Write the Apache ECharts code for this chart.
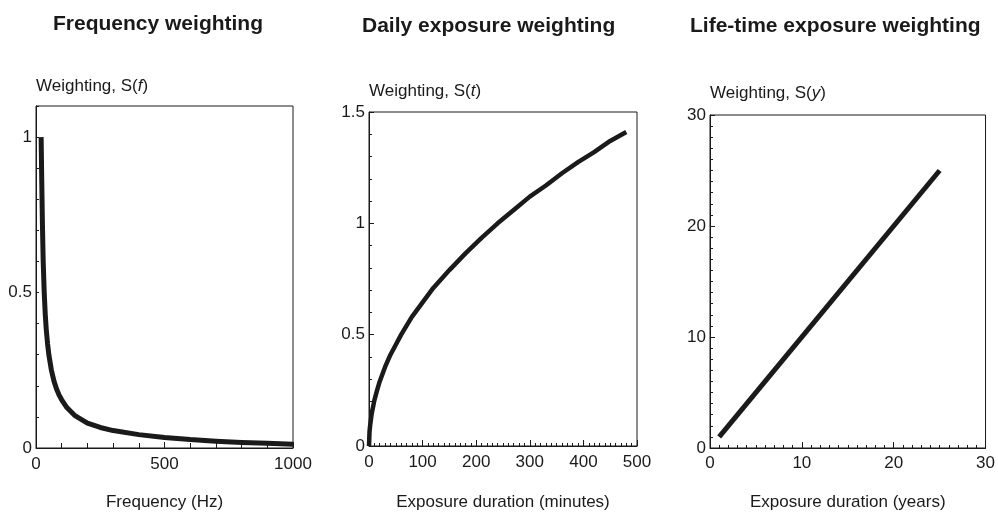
<!DOCTYPE html>
<html>
<head>
<meta charset="utf-8">
<script src="https://cdn.jsdelivr.net/npm/echarts@6/dist/echarts.min.js"></script>
<style>
html,body{margin:0;padding:0;background:#fff;}
#chart{width:998px;height:516px;}
</style>
</head>
<body>
<div id="chart"></div>
<script>
// ---- Data ----
const panelTitles = ['Frequency weighting', 'Daily exposure weighting', 'Life-time exposure weighting'];
const xAxisNames = ['Frequency (Hz)', 'Exposure duration (minutes)', 'Exposure duration (years)'];
const yAxisVars = ['f', 't', 'y'];

// Panel 1: frequency weighting S(f)
const freqHz      = [20, 22, 25, 28, 32, 36, 40, 45, 50, 60, 70, 80, 90, 100, 120, 150, 200, 250, 300, 400, 500, 600, 700, 800, 900, 1000];
const freqWeight  = [1.0, 0.88, 0.72, 0.6, 0.5, 0.43, 0.38, 0.335, 0.3, 0.25, 0.215, 0.19, 0.17, 0.155, 0.13, 0.105, 0.08, 0.066, 0.056, 0.043, 0.034, 0.027, 0.022, 0.018, 0.015, 0.012];

// Panel 2: daily exposure weighting S(t)
const dailyMinutes = [0, 1, 2, 5, 10, 15, 20, 30, 40, 50, 60, 80, 100, 120, 150, 180, 210, 240, 270, 300, 330, 360, 390, 420, 450, 480];
const dailyWeight  = [0, 0.065, 0.09, 0.145, 0.205, 0.25, 0.29, 0.355, 0.41, 0.455, 0.5, 0.58, 0.645, 0.71, 0.79, 0.865, 0.935, 1.0, 1.06, 1.12, 1.17, 1.225, 1.275, 1.32, 1.37, 1.41];

// Panel 3: life-time exposure weighting S(y)
const lifeYears  = [1, 25];
const lifeWeight = [1, 25];

// ---- Chart ----
const ink = '#1a1a1a';
const FONT = 'Liberation Sans, Arial, Helvetica, sans-serif';

function zip(xs, ys){ return xs.map((x,i)=>[x, ys[i]]); }

const grids = [
  {left: 36,  top: 106, width: 257, height: 345},
  {left: 369, top: 112, width: 268, height: 340},
  {left: 710, top: 115, width: 278, height: 343}
];

function yName(v){ return '{a|Weighting, S(}{i|' + v + '}{a|)}'; }

const nameRich = {
  a: {fontFamily: FONT, fontSize: 17, color: ink},
  i: {fontFamily: FONT, fontSize: 17, color: ink, fontStyle: 'italic'}
};

const baseAxisLine = {show: true, lineStyle: {color: ink, width: 1}};
const labelStyle = {fontFamily: FONT, fontSize: 17, color: ink};
const plainNum = function(v){ return String(v); };

const option = {
  backgroundColor: '#fff',
  animation: false,
  title: [
    {text: panelTitles[0], left: 48,  top: 9, textStyle: {fontFamily: FONT, fontSize: 21, fontWeight: 'bold', color: ink}},
    {text: panelTitles[1], left: 357, top: 11, textStyle: {fontFamily: FONT, fontSize: 21, fontWeight: 'bold', color: ink}},
    {text: panelTitles[2], left: 685, top: 11, textStyle: {fontFamily: FONT, fontSize: 21, fontWeight: 'bold', color: ink}}
  ],
  grid: grids.map(g => Object.assign({show: true, borderColor: ink, borderWidth: 1, backgroundColor: 'transparent'}, g)),
  xAxis: [
    {gridIndex: 0, type: 'value', min: 0, max: 1000, interval: 500,
     name: xAxisNames[0], nameLocation: 'middle', nameGap: 46, nameTextStyle: {fontFamily: FONT, fontSize: 17, color: ink},
     axisLine: baseAxisLine, axisTick: {show: true, inside: true, length: 6, lineStyle: {color: ink}},
     minorTick: {show: true, splitNumber: 5, length: 5, lineStyle: {color: ink}},
     axisLabel: Object.assign({margin: 8, formatter: plainNum}, labelStyle), splitLine: {show: false}},
    {gridIndex: 1, type: 'value', min: 0, max: 500, interval: 100,
     name: xAxisNames[1], nameLocation: 'middle', nameGap: 48, nameTextStyle: {fontFamily: FONT, fontSize: 17, color: ink},
     axisLine: baseAxisLine, axisTick: {show: true, inside: true, length: 6, lineStyle: {color: ink}},
     minorTick: {show: true, splitNumber: 10, length: 3, lineStyle: {color: ink}},
     axisLabel: Object.assign({margin: 8, formatter: plainNum}, labelStyle), splitLine: {show: false}},
    {gridIndex: 2, type: 'value', min: 0, max: 30, interval: 10,
     name: xAxisNames[2], nameLocation: 'middle', nameGap: 46, nameTextStyle: {fontFamily: FONT, fontSize: 17, color: ink},
     axisLine: baseAxisLine, axisTick: {show: true, inside: true, length: 6, lineStyle: {color: ink}},
     minorTick: {show: true, splitNumber: 10, length: 3, lineStyle: {color: ink}},
     axisLabel: Object.assign({margin: 7, formatter: plainNum}, labelStyle), splitLine: {show: false}}
  ],
  yAxis: [
    {gridIndex: 0, type: 'value', min: 0, max: 1.1, interval: 0.1,
     name: yName(yAxisVars[0]), nameLocation: 'end', nameGap: 20,
     nameTextStyle: {align: 'left', verticalAlign: 'middle', rich: nameRich},
     axisLine: baseAxisLine, axisTick: {show: true, inside: true, length: 3, lineStyle: {color: ink}},
     axisLabel: Object.assign({margin: 4, formatter: function(v){
        if (Math.abs(v) < 1e-9) return '0';
        if (Math.abs(v - 0.5) < 1e-9) return '0.5';
        if (Math.abs(v - 1) < 1e-9) return '1';
        return '';
     }}, labelStyle), splitLine: {show: false}},
    {gridIndex: 1, type: 'value', min: 0, max: 1.5, interval: 0.5,
     name: yName(yAxisVars[1]), nameLocation: 'end', nameGap: 21,
     nameTextStyle: {align: 'left', verticalAlign: 'middle', rich: nameRich},
     axisLine: baseAxisLine, axisTick: {show: true, inside: true, length: 5, lineStyle: {color: ink}},
     minorTick: {show: true, splitNumber: 5, length: 3, lineStyle: {color: ink}},
     axisLabel: Object.assign({margin: 4}, labelStyle), splitLine: {show: false}},
    {gridIndex: 2, type: 'value', min: 0, max: 30, interval: 10,
     name: yName(yAxisVars[2]), nameLocation: 'end', nameGap: 22,
     nameTextStyle: {align: 'left', verticalAlign: 'middle', rich: nameRich},
     axisLine: baseAxisLine, axisTick: {show: true, inside: true, length: 5, lineStyle: {color: ink}},
     minorTick: {show: true, splitNumber: 10, length: 3, lineStyle: {color: ink}},
     axisLabel: Object.assign({margin: 4}, labelStyle), splitLine: {show: false}}
  ],
  series: [
    {type: 'line', xAxisIndex: 0, yAxisIndex: 0, data: zip(freqHz, freqWeight), showSymbol: false,
     smooth: false, lineStyle: {color: ink, width: 5, join: 'round'}},
    {type: 'line', xAxisIndex: 1, yAxisIndex: 1, data: zip(dailyMinutes, dailyWeight), showSymbol: false,
     smooth: false, lineStyle: {color: ink, width: 4.5, join: 'round'}},
    {type: 'line', xAxisIndex: 2, yAxisIndex: 2, data: zip(lifeYears, lifeWeight), showSymbol: false,
     lineStyle: {color: ink, width: 5}}
  ]
};

const chart = echarts.init(document.getElementById('chart'), null, {renderer: 'canvas'});
chart.setOption(option);
</script>
</body>
</html>
